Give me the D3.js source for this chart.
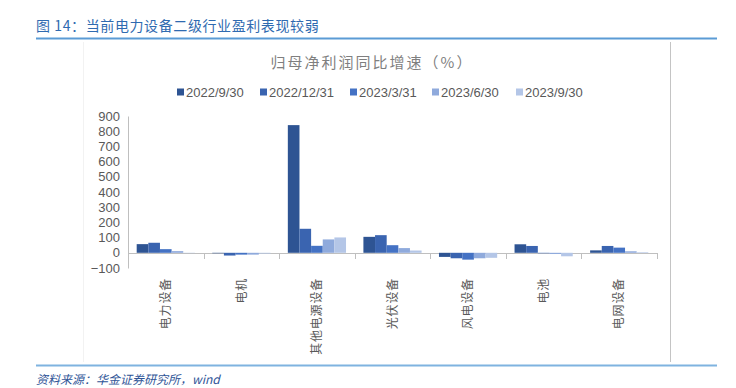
<!DOCTYPE html>
<html>
<head>
<meta charset="utf-8">
<script src="https://cdn.jsdelivr.net/npm/d3@7"></script>
<style>
  body { margin: 0; background: #fff; }
  text { font-family: "Liberation Sans", "Noto Sans CJK SC", sans-serif; }
</style>
</head>
<body>
<div id="chart"></div>
<script>
// categories and series
const categories = ["电力设备", "电机", "其他电源设备", "光伏设备", "风电设备", "电池", "电网设备"];
const seriesNames = ["2022/9/30", "2022/12/31", "2023/3/31", "2023/6/30", "2023/9/30"];
const colors = ["#2E5493", "#3A64B0", "#4472C4", "#8FAADC", "#B4C6E7"];
const s2022q3 = [57, -3, 840, 105, -27, 56, 16];
const s2022q4 = [66, -18, 158, 116, -36, 45, 45];
const s2023q1 = [24, -12, 46, 50, -45, -3, 34];
const s2023q2 = [11, -12, 88, 31, -36, -8, 10];
const s2023q3 = [-2, -5, 101, 15, -33, -23, 4];
const series = [s2022q3, s2022q4, s2023q1, s2023q2, s2023q3];
const yTicks = [-100, 0, 100, 200, 300, 400, 500, 600, 700, 800, 900];

const W = 736, H = 388;
const svg = d3.select("#chart").append("svg")
    .attr("width", W)
    .attr("height", H);

// header
svg.append("text")
    .attr("x", 36).attr("y", 31)
    .attr("fill", "#2F6AB0")
    .attr("font-size", 14)
    .attr("letter-spacing", 0.6)
    .style("font-family", "'Noto Sans CJK SC', sans-serif")
    .text("图 14：当前电力设备二级行业盈利表现较弱");
svg.append("line")
    .attr("x1", 36).attr("x2", 717).attr("y1", 38.5).attr("y2", 38.5)
    .attr("stroke", "#5B9BD5").attr("stroke-width", 2);

// footer
svg.append("line")
    .attr("x1", 36).attr("x2", 717).attr("y1", 365.5).attr("y2", 365.5)
    .attr("stroke", "#7FB3E0").attr("stroke-width", 2);
svg.append("text")
    .attr("x", 36).attr("y", 384)
    .attr("fill", "#2F5597")
    .attr("font-size", 12)
    .attr("font-style", "italic")
    .style("font-family", "'Noto Sans CJK SC', sans-serif")
    .text("资料来源：华金证券研究所，wind");

// chart frame (faint)
svg.append("line")
    .attr("x1", 670.5).attr("x2", 670.5).attr("y1", 42).attr("y2", 362)
    .attr("stroke", "#c4c4c4");
svg.append("line")
    .attr("x1", 83.5).attr("x2", 83.5).attr("y1", 42).attr("y2", 362)
    .attr("stroke", "#f2f2f2");

// chart title
svg.append("text")
    .attr("x", 372).attr("y", 68)
    .attr("text-anchor", "middle")
    .attr("fill", "#7F7F7F")
    .attr("font-size", 15)
    .attr("letter-spacing", 2)
    .style("font-family", "'Noto Sans CJK SC', sans-serif")
    .text("归母净利润同比增速（%）");

// legend
const legendX = [177, 260, 350, 432, 516];
const legend = svg.append("g");
seriesNames.forEach(function (name, i) {
    legend.append("rect")
        .attr("x", legendX[i]).attr("y", 88.5)
        .attr("width", 7).attr("height", 7)
        .attr("fill", colors[i]);
    legend.append("text")
        .attr("x", legendX[i] + 9).attr("y", 97)
        .attr("fill", "#595959")
        .attr("font-size", 13)
        .text(name);
});

// scales
const x0 = d3.scaleBand()
    .domain(categories)
    .range([128, 657])
    .paddingInner(0.23)
    .paddingOuter(0.115);
const x1 = d3.scaleBand()
    .domain(d3.range(seriesNames.length))
    .range([0, x0.bandwidth()]);
const y = d3.scaleLinear()
    .domain([-100, 900])
    .range([268, 116]);

// y axis
const yAxis = svg.append("g")
    .attr("transform", "translate(128,0)")
    .call(d3.axisLeft(y).tickValues(yTicks).tickSize(0).tickPadding(8));
yAxis.select(".domain").attr("stroke", "#BFBFBF");
yAxis.selectAll("text")
    .attr("fill", "#595959")
    .attr("font-size", 13)
    .style("font-family", "'Liberation Sans', sans-serif");

// x axis along zero line, ticks at category boundaries
const xAxis = svg.append("g");
xAxis.append("line")
    .attr("x1", 128).attr("x2", 657)
    .attr("y1", Math.round(y(0)) + 0.5).attr("y2", Math.round(y(0)) + 0.5)
    .attr("stroke", "#BFBFBF");
d3.range(1, categories.length + 1).forEach(function (i) {
    const xx = Math.round(128 + (657 - 128) * i / categories.length) + 0.5;
    xAxis.append("line")
        .attr("x1", xx).attr("x2", xx)
        .attr("y1", Math.round(y(0))).attr("y2", Math.round(y(0)) + 6)
        .attr("stroke", "#BFBFBF");
});

// bars
const groups = svg.append("g").selectAll("g")
    .data(categories)
    .join("g")
    .attr("transform", d => `translate(${x0(d)},0)`);
groups.selectAll("rect")
    .data((d, ci) => series.map((s, si) => ({si: si, v: s[ci]})))
    .join("rect")
    .attr("x", d => x1(d.si))
    .attr("width", x1.bandwidth())
    .attr("y", d => y(Math.max(0, d.v)))
    .attr("height", d => Math.abs(y(d.v) - y(0)))
    .attr("fill", d => colors[d.si]);

// category labels, rotated to read bottom-to-top
categories.forEach(function (c) {
    const cx = x0(c) + x0.bandwidth() / 2;
    svg.append("text")
        .attr("transform", `translate(${cx},278) rotate(-90)`)
        .attr("fill", "#595959")
        .attr("font-size", 12)
        .attr("text-anchor", "end")
        .attr("dy", "0.35em")
        .attr("letter-spacing", 0.8)
        .style("font-family", "'Noto Sans CJK SC', sans-serif")
        .text(c);
});
</script>
</body>
</html>
